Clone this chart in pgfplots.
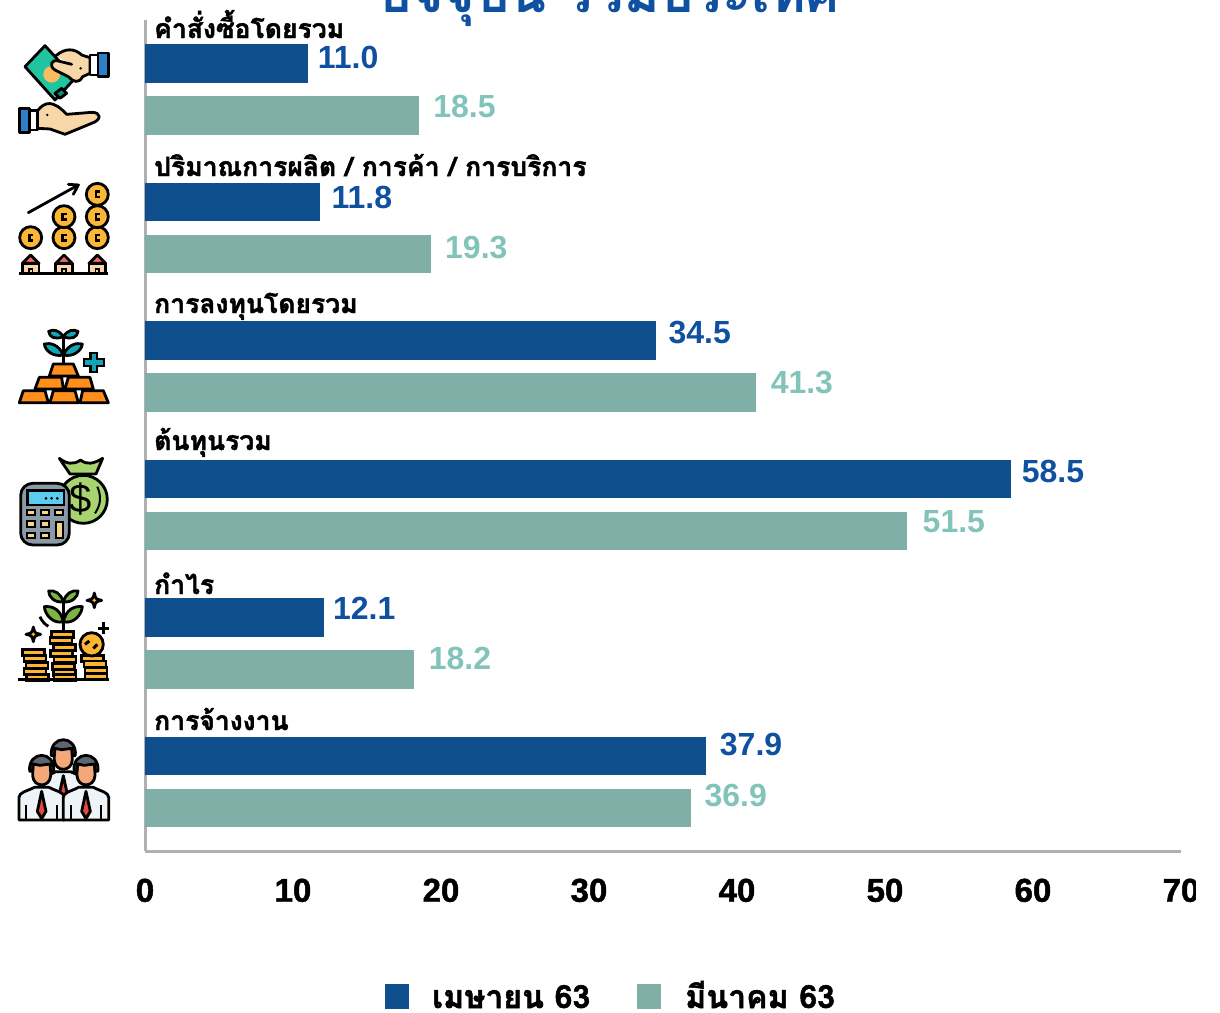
\documentclass[border=0pt]{standalone}
\usepackage{pgfplots}
\pgfplotsset{compat=1.18}
\usepackage{fontspec}
\setmainfont{Liberation Sans}
\newfontfamily\thaifont[Script=Thai,FakeBold=1.6]{Loma Bold}
\newfontfamily\thaititle[Script=Thai]{Loma Bold}
\newfontfamily\tickfont[FakeBold=1.4]{Liberation Sans Bold}
\definecolor{barblue}{HTML}{0F4F8D}
\definecolor{bargreen}{HTML}{7FAFA6}
\definecolor{lblblue}{HTML}{1050A0}
\definecolor{lblgreen}{HTML}{82C4BA}
\definecolor{axgray}{HTML}{B0B0B0}
\definecolor{note}{HTML}{20C5A0}
\definecolor{skin}{HTML}{F7D6A8}
\definecolor{cuff}{HTML}{2F7FC8}
\definecolor{coin}{HTML}{FBB734}
\definecolor{roof}{HTML}{F06A6A}
\definecolor{tealc}{HTML}{12A5B5}
\definecolor{gold}{HTML}{FF8F1A}
\definecolor{bag}{HTML}{A8D470}
\definecolor{calc}{HTML}{8C9AA8}
\definecolor{screen}{HTML}{5CCBF0}
\definecolor{btn}{HTML}{F5D58C}
\definecolor{leaf}{HTML}{7CB342}
\definecolor{hair}{HTML}{5F6670}
\definecolor{face}{HTML}{F2A878}
\definecolor{shirt}{HTML}{EEF3F8}
\definecolor{tie}{HTML}{E5483F}
\tikzset{ic/.style={draw=black,line width=2.8pt,line join=round,line cap=round},
 zoomat/.style={shift={(#1)},x=0.3333pt,y=-0.3333pt}}
% one bar: value, row, label x shift, label y shift
\newcommand\barA[4]{\addplot[draw=none,fill=barblue,bar width=38.5pt,bar shift=26pt,
  every node near coord/.append style={anchor=west,text=lblblue,font=\fontsize{32}{32}\selectfont\bfseries,xshift=#3pt,yshift=#4pt}]
  coordinates {(#1,#2)};}
\newcommand\barB[4]{\addplot[draw=none,fill=bargreen,bar width=38.5pt,bar shift=-26pt,
  every node near coord/.append style={anchor=west,text=lblgreen,font=\fontsize{32}{32}\selectfont\bfseries,xshift=#3pt,yshift=#4pt}]
  coordinates {(#1,#2)};}
\newcommand\person[2]{%
 \draw[ic,fill=shirt] (#1-68,#2+198) -- (#1-68,#2+130) .. controls (#1-68,#2+115) and (#1-45,#2+112) .. (#1-22,#2+100) -- (#1+22,#2+100) .. controls (#1+45,#2+112) and (#1+68,#2+115) .. (#1+68,#2+130) -- (#1+68,#2+198) -- cycle;
 \draw[line width=2pt] (#1-46,#2+152)--(#1-46,#2+198) (#1+46,#2+152)--(#1+46,#2+198);
 \draw[ic,fill=tie] (#1,#2+112) -- (#1+13,#2+172) -- (#1,#2+194) -- (#1-13,#2+172) -- cycle;
 \draw[ic,fill=face] (#1-27,#2+30) -- (#1+27,#2+30) -- (#1+27,#2+65) .. controls (#1+25,#2+102) and (#1-25,#2+102) .. (#1-27,#2+65) -- cycle;
 \draw[ic,fill=hair] (#1-36,#2+52) .. controls (#1-42,#2-12) and (#1+42,#2-12) .. (#1+36,#2+52) -- (#1+27,#2+52) -- (#1+25,#2+30) -- (#1-5,#2+34) -- (#1-25,#2+30) -- (#1-27,#2+52) -- cycle;
}
\begin{document}
\begin{tikzpicture}[x=1pt,y=-1pt]
\path[use as bounding box] (0,0) rectangle (1220,1012);
\clip (0,0) rectangle (1220,1012);
\node[anchor=base,text=lblblue,inner sep=0pt] at (609,12) {\fontsize{54}{54}\thaititle ปัจจุบัน รวมประเทศ};
\begin{axis}[
  at={(145pt,-851pt)},anchor=south west,
  scale only axis,width=1036pt,height=831pt,
  xmin=0,xmax=70,ymin=-0.5,ymax=5.5,y dir=reverse,
  axis x line=bottom,axis y line=left,
  axis line style={axgray,line width=3pt,-},
  xtick={0,10,...,70},ytick=\empty,
  x tick style={draw=none},
  x tick label style={font=\fontsize{33}{33}\tickfont,text=black,yshift=-22pt},
  /pgf/number format/assume math mode=true,
  xbar,
  clip=false,
  nodes near coords,
  nodes near coords style={/pgf/number format/fixed,/pgf/number format/fixed zerofill,/pgf/number format/precision=1,/pgf/number format/assume math mode=true},
]
\barA{11.0}{0}{6.5}{6}
\barB{18.5}{0}{11}{8.5}
\barA{11.8}{1}{8.5}{4}
\barB{19.3}{1}{11}{6.5}
\barA{34.5}{2}{9.5}{8}
\barB{41.3}{2}{11}{9.5}
\barA{58.5}{3}{7.5}{7}
\barB{51.5}{3}{12}{9.5}
\barA{12.1}{4}{5.5}{9}
\barB{18.2}{4}{11}{10.5}
\barA{37.9}{5}{10.5}{11}
\barB{36.9}{5}{10}{12.5}
\end{axis}
\foreach \yy/\lab in {38/{คำสั่งซื้อโดยรวม},176/{ปริมาณการผลิต / การค้า / การบริการ},313/{การลงทุนโดยรวม},450/{ต้นทุนรวม},594/{กำไร},730/{การจ้างงาน}}
  \node[anchor=base west,inner sep=0pt,text=black] at (154,\yy) {\fontsize{26.5}{26.5}\thaifont \lab};
\fill[barblue] (385,984) rectangle (409,1009);
\fill[bargreen] (637,984) rectangle (661,1009);
\node[anchor=base west,inner sep=0pt] at (432,1008) {\fontsize{32}{32}\thaifont เมษายน 63};
\node[anchor=base west,inner sep=0pt] at (685,1008) {\fontsize{32}{32}\thaifont มีนาคม 63};
\fill[white] (1196,860) rectangle (1220,920);
% icon 1
\begin{scope}[zoomat={10,35}]
\draw[ic,fill=note] (105,32)--(45,95)--(135,195)--(195,130)--cycle;
\draw[ic,fill=note!70!black] (135,175)--(155,160)--(170,175)--(150,190)--cycle;
\fill[btn!70!orange] (125,118) circle[radius=25];
\draw[ic,fill=skin] (138,62) .. controls (165,38) and (195,40) .. (215,60) -- (240,68) -- (240,115) -- (218,125) .. controls (205,148) and (190,140) .. (175,125) -- (135,105) .. controls (115,92) and (125,72) .. (145,78) -- (185,88);
\fill[black] (212,100) circle[radius=4];
\draw[ic,fill=white] (240,60) rectangle (264,120);
\draw[ic,fill=cuff] (264,54) rectangle (296,124);
\draw[ic,fill=skin] (82,228) .. controls (105,198) and (130,195) .. (170,238) -- (245,232) .. controls (275,232) and (275,255) .. (245,265) -- (165,298) -- (120,282) -- (82,280) -- cycle;
\fill[black] (112,240) circle[radius=4];
\draw[ic,fill=white] (58,226) rectangle (82,285);
\draw[ic,fill=cuff] (28,220) rectangle (58,292);
\end{scope}
% icon 2
\begin{scope}[zoomat={10,175}]
\draw[line width=2.8pt,line cap=round] (55,113)--(205,30);
\draw[line width=2.8pt,line cap=round,line join=round] (175,28)--(205,30)--(190,58);
\foreach \cx/\cy in {62/188,162/188,162/125,262/188,262/125,262/58}{
 \draw[ic,fill=coin] (\cx,\cy) circle[radius=33];
 \fill[black] (\cx-8,\cy-12) rectangle (\cx+8,\cy+12);
 \fill[coin] (\cx,\cy-4) rectangle (\cx+9,\cy+4);
}
\foreach \cx in {62,162,262}{
 \draw[ic,fill=skin] (\cx-25,265) rectangle (\cx+25,295);
 \draw[ic,fill=roof] (\cx,240)--(\cx+25,265)--(\cx-25,265)--cycle;
 \fill[black] (\cx-8,280) rectangle (\cx+8,295);
 \fill[skin] (\cx-3,285) rectangle (\cx+3,295);
}
\draw[line width=3.2pt] (28,296)--(295,296);
\end{scope}
% icon 3
\begin{scope}[zoomat={10,320}]
\draw[line width=2.8pt] (160,130)--(160,50);
\foreach \s in {1,-1}{
 \draw[ic,fill=tealc] (160,50) .. controls ({160+\s*15},28) and ({160+\s*30},28) .. ({160+\s*44},34) .. controls ({160+\s*42},52) and ({160+\s*25},60) .. (160,50);
 \draw[ic,fill=tealc] (160,105) .. controls ({160+\s*15},72) and ({160+\s*40},68) .. ({160+\s*57},72) .. controls ({160+\s*55},92) and ({160+\s*30},112) .. (160,105);
}
\draw[ic,fill=gold] (130,132)--(190,132)--(205,168)--(118,168)--cycle (88,172)--(155,172)--(160,207)--(75,207)--cycle (175,172)--(240,172)--(250,207)--(165,207)--cycle (40,212)--(105,212)--(115,248)--(28,248)--cycle (130,212)--(195,212)--(205,248)--(120,248)--cycle (218,212)--(280,212)--(295,248)--(210,248)--cycle;
\draw[line width=9pt] (220,127)--(285,127) (252,96)--(252,158);
\draw[line width=4.5pt,tealc] (226,127)--(279,127) (252,102)--(252,152);
\end{scope}
% icon 4
\begin{scope}[zoomat={10,450}]
\draw[ic,fill=bag] (220,148) circle[radius=72];
\draw[ic,fill=bag] (180,72)--(148,25) .. controls (170,42) and (190,45) .. (212,30) .. controls (230,45) and (250,42) .. (278,25)--(258,72)--cycle;
\node[text=black,inner sep=0pt] at (212,148) {\fontsize{40}{40}\selectfont \$};
\draw[line width=2pt] (262,110) .. controls (275,140) and (272,165) .. (255,190);
\draw[line width=2.8pt,rounded corners=12pt,fill=calc] (32,100) rectangle (178,285);
\draw[line width=2.4pt,fill=screen] (52,122) rectangle (162,165);
\foreach \dx in {108,125,142} \fill[black] (\dx,145) circle[radius=4.5];
\foreach \cx/\cy in {63/188,105/188,148/188,63/222,105/222,63/256,105/256}
 \draw[line width=2pt,fill=btn] (\cx-12,\cy-8) rectangle (\cx+12,\cy+8);
\draw[line width=2pt,fill=btn] (137,215) rectangle (160,265);
\end{scope}
% icon 5
\begin{scope}[zoomat={10,585}]
\foreach \xa/\ya in {38/193,42/212,48/232,42/250,50/268,125/140,120/158,130/178,122/197,132/215,128/235,130/255,132/268,215/212,222/228,225/247,225/265}
 \draw[line width=2.4pt,fill=coin] (\xa,\ya) rectangle ++(66,18);
\draw[ic,fill=coin] (245,178) circle[radius=35];
\draw[line width=3pt] (225,178)--(238,168) (250,190)--(262,178);
\draw[line width=3.2pt] (25,284)--(297,284);
\draw[line width=2.8pt] (160,135)--(160,50);
\foreach \s in {1,-1}{
 \draw[ic,fill=leaf] (160,50) .. controls ({160+\s*8},25) and ({160+\s*25},15) .. ({160+\s*44},18) .. controls ({160+\s*45},35) and ({160+\s*25},55) .. (160,50);
 \draw[ic,fill=leaf] (160,110) .. controls ({160+\s*8},75) and ({160+\s*30},62) .. ({160+\s*57},65) .. controls ({160+\s*55},90) and ({160+\s*30},118) .. (160,110);
}
\draw[line width=2.8pt] (90,95) .. controls (95,108) and (105,118) .. (115,124);
\foreach \sx/\sy/\sr in {70/148/22,253/46/22}{
 \draw[ic,fill=coin] (\sx-\sr,\sy) .. controls (\sx-4,\sy-4) .. (\sx,\sy-\sr) .. controls (\sx+4,\sy-4) .. (\sx+\sr,\sy) .. controls (\sx+4,\sy+4) .. (\sx,\sy+\sr) .. controls (\sx-4,\sy+4) .. cycle;
}
\draw[line width=2.8pt] (280,112)--(280,148) (263,130)--(297,130);
\end{scope}
% icon 6
\begin{scope}[zoomat={10,730}]
\person{160}{25}
\person{95}{72}
\person{228}{72}
\end{scope}
\end{tikzpicture}
\end{document}
